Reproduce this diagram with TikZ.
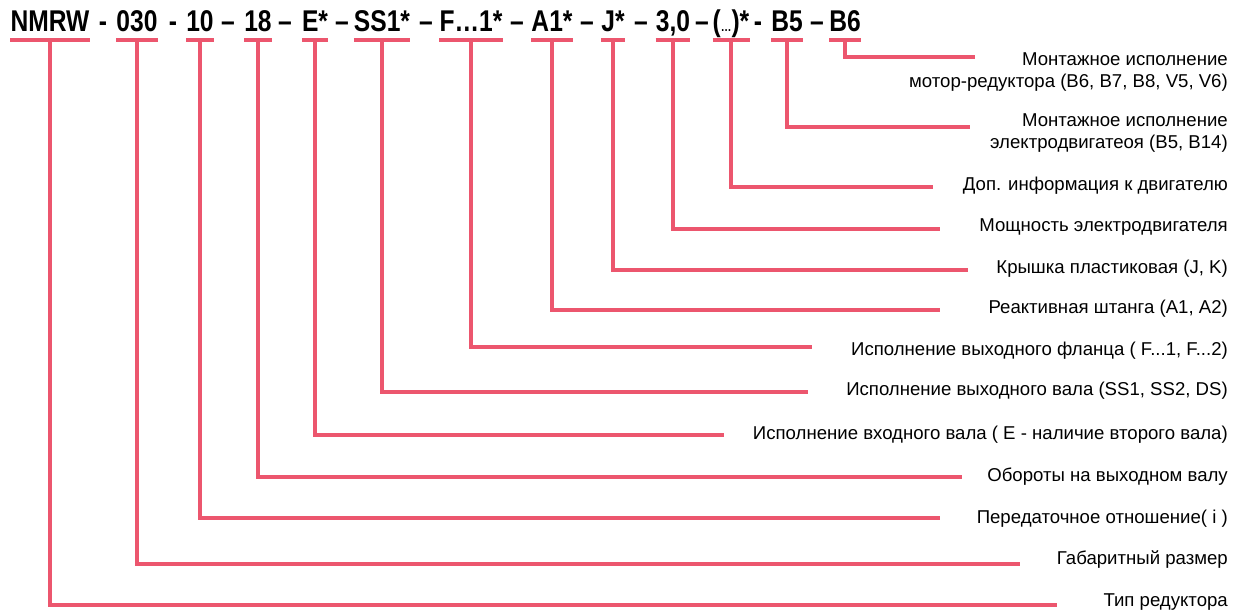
\documentclass[tikz,border=0pt]{standalone}
\usepackage{fontspec}
\setmainfont{Liberation Sans}
\newfontfamily\hdrfont[FakeStretch=0.82]{Liberation Sans Bold}
\definecolor{pinkline}{RGB}{236,86,110}
\begin{document}
\begin{tikzpicture}[x=1pt,y=-1pt,
  tok/.style={font=\hdrfont\fontsize{30}{30}\selectfont, inner sep=0pt, text depth=0pt, anchor=base},
  dsh/.style={font=\hdrfont\fontsize{30}{30}\selectfont, inner sep=0pt, text depth=0pt, anchor=base},
  ul/.style={draw=pinkline, line width=3.5pt},
  ln/.style={draw=pinkline, line width=3.5pt},
  lbl/.style={font=\fontsize{18.6}{21.5}\selectfont, inner sep=0pt, anchor=east, align=right}]
\useasboundingbox (0,0) rectangle (1242,612);
% header tokens
\node[tok] (t1) at (50,32) {NMRW};
\node[tok] (t2) at (137,32) {030};
\node[tok] (t3) at (200,32) {10};
\node[tok] (t4) at (258,32) {18};
\node[tok] (t5) at (315,32) {E*};
\node[tok] (t6) at (382,32) {SS1*};
\node[tok] (t7) at (471,32) {F…1*};
\node[tok] (t8) at (552,32) {A1*};
\node[tok] (t9) at (613,32) {J*};
\node[tok] (t10) at (673,32) {3,0};
\node[tok] (t11) at (731,32) {({\fontsize{13}{13}\selectfont …})*};
\node[tok] (t12) at (787,32) {B5};
\node[tok] (t13) at (845,32) {B6};
% separators
\node[dsh] (d1) at (103,32) {-};
\node[dsh] (d2) at (173,32) {-};
\node[dsh] (d3) at (228,32) {–};
\node[dsh] (d4) at (285,32) {–};
\node[dsh] (d5) at (342,32) {–};
\node[dsh] (d6) at (426,32) {–};
\node[dsh] (d7) at (517,32) {–};
\node[dsh] (d8) at (587,32) {–};
\node[dsh] (d9) at (641,32) {–};
\node[dsh] (d10) at (702,32) {–};
\node[dsh] (d11) at (758,32) {-};
\node[dsh] (d12) at (817,32) {–};
% underlines
\foreach \t in {t1,t2,t3,t4,t5,t6,t7,t8,t9,t10,t11,t12,t13}
  \draw[ul] ([yshift=-8pt]\t.south west) -- ([yshift=-8pt]\t.south east);
% end coordinates
\coordinate (e13) at (975,57);
\coordinate (e12) at (970,127);
\coordinate (e11) at (933,187);
\coordinate (e10) at (940,229);
\coordinate (e9) at (968,270);
\coordinate (e8) at (940,310);
\coordinate (e7) at (812,347);
\coordinate (e6) at (808,392);
\coordinate (e5) at (724,435);
\coordinate (e4) at (962,477);
\coordinate (e3) at (940,518);
\coordinate (e2) at (1020,564);
\coordinate (e1) at (1057,605);
% connectors
\foreach \i in {1,...,13}
  \draw[ln] ([yshift=-8pt]t\i.south) |- (e\i);
% labels
\node[lbl] (l13) at (1228,72) {Монтажное исполнение\\мотор-редуктора (B6, B7, B8, V5, V6)};
\node[lbl] (l12) at (1228,133) {Монтажное исполнение\\электродвигатеоя (B5, B14)};
\node[lbl] (l11) at (1228,186) {Доп. информация к двигателю};
\node[lbl] (l10) at (1228,227) {Мощность электродвигателя};
\node[lbl] (l9) at (1228,269) {Крышка пластиковая (J, K)};
\node[lbl] (l8) at (1228,309) {Реактивная штанга (A1, A2)};
\node[lbl] (l7) at (1228,351) {Исполнение выходного фланца ( F...1, F...2)};
\node[lbl] (l6) at (1228,391) {Исполнение выходного вала (SS1, SS2, DS)};
\node[lbl] (l5) at (1228,435) {Исполнение входного вала ( E - наличие второго вала)};
\node[lbl] (l4) at (1228,477) {Обороты на выходном валу};
\node[lbl] (l3) at (1228,519) {Передаточное отношение( i )};
\node[lbl] (l2) at (1228,560) {Габаритный размер};
\node[lbl] (l1) at (1228,602) {Тип редуктора};
\end{tikzpicture}
\end{document}
